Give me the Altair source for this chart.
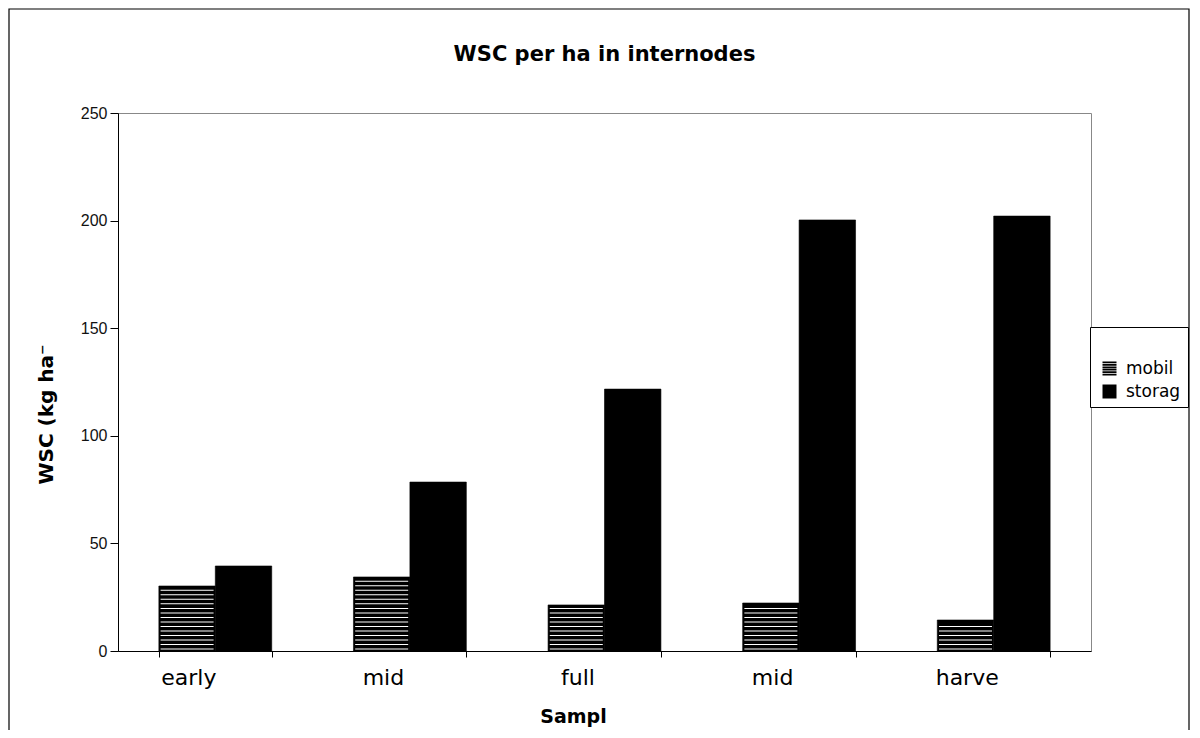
import json
import altair as alt
import pandas as pd

# ---- data ----
stage_labels = ["early", "mid", "full", "mid", "harve"]
series_names = ["mobil", "storag"]
mobil_values = [30.2, 34.4, 21.4, 22.3, 14.4]
storag_values = [39.5, 78.5, 121.7, 200.3, 202.1]
y_ticks = [0, 50, 100, 150, 200, 250]

rows = []
for i, lab in enumerate(stage_labels):
    rows.append({"slot": i, "stage": lab, "series": "mobil", "value": mobil_values[i]})
    rows.append({"slot": i, "stage": lab, "series": "storag", "value": storag_values[i]})
df = pd.DataFrame(rows)

label_expr = json.dumps(stage_labels) + "[datum.value]"

# striped legend symbol (normalized -1..1 path)
band_tops = [-1, -0.65, -0.3, 0.05, 0.4, 0.75]
stripe_path = "".join(f"M-1,{t}H1V{round(t + 0.25, 2)}H-1Z" for t in band_tops)


def x_enc():
    return alt.X(
        "slot:O",
        scale=alt.Scale(paddingInner=0.42, paddingOuter=0.21),
        axis=alt.Axis(
            labelExpr=label_expr,
            labelAngle=0,
            labelFont="DejaVu Sans",
            labelFontSize=22,
            labelColor="black",
            labelOffset=-27,
            labelPadding=10,
            tickBand="extent",
            tickSize=6,
            tickColor="black",
            domainColor="black",
            title="Sampl",
            titleFont="DejaVu Sans",
            titleFontSize=19,
            titleFontWeight="bold",
            titleColor="black",
            titleX=455,
            titleY=65,
            titleBaseline="middle",
            titleAlign="center",
        ),
    )


def xo_enc():
    return alt.XOffset("series:N", scale=alt.Scale(domain=series_names))


def y_enc(field):
    return alt.Y(
        f"{field}:Q",
        scale=alt.Scale(domain=[0, 250], nice=False),
        axis=alt.Axis(
            values=y_ticks,
            grid=False,
            labelFont="Liberation Sans",
            labelFontSize=16,
            labelColor="#111111",
            labelPadding=3,
            tickSize=8,
            tickColor="black",
            domainColor="black",
            title="WSC (kg ha\u207b",
            titleFont="DejaVu Sans",
            titleFontSize=20,
            titleFontWeight="bold",
            titleColor="black",
            titleAngle=-90,
            titleX=-72,
            titleY=301,
            titleAlign="center",
            titleBaseline="middle",
        ),
    )


legend = alt.Legend(
    title="\u00a0",
    orient="none",
    legendX=972,
    legendY=214,
    fillColor="white",
    strokeColor="black",
    padding=7,
    symbolOffset=4,
    labelOffset=8,
    labelFont="DejaVu Sans",
    labelFontSize=17,
    labelColor="black",
    symbolSize=196,
    symbolStrokeWidth=0,
    symbolOpacity=1,
    titleFontSize=14,
    titlePadding=12,
    rowPadding=5,
)

frame = alt.Chart(pd.DataFrame({"k": [0]})).mark_rect(
    fill="transparent", stroke="black", strokeWidth=1.2
).encode(
    x=alt.value(-109), x2=alt.value(1071), y=alt.value(-104), y2=alt.value(700)
)

bars = alt.Chart(df).mark_bar(color="black", stroke="black", strokeWidth=0.6).encode(
    x=x_enc(), xOffset=xo_enc(), y=y_enc("value")
)

stripes = (
    alt.Chart(df)
    .transform_filter("datum.series == 'mobil'")
    .transform_calculate(stripe="sequence(0.9, datum.value - 1.2, 2.1)")
    .transform_flatten(["stripe"])
    .mark_tick(color="white", thickness=1, size=53, opacity=1)
    .encode(x=x_enc(), xOffset=xo_enc(), y=y_enc("stripe"))
)

legend_pts = (
    alt.Chart(df)
    .transform_filter("false")
    .mark_point(filled=True, size=196, opacity=1)
    .encode(
        x=x_enc(),
        y=y_enc("value"),
        shape=alt.Shape(
            "series:N",
            scale=alt.Scale(domain=series_names, range=[stripe_path, "square"]),
            legend=legend,
        ),
        fill=alt.Fill(
            "series:N",
            scale=alt.Scale(domain=series_names, range=["black", "black"]),
            legend=legend,
        ),
    )
)

chart = (
    alt.layer(frame, bars, stripes, legend_pts)
    .properties(
        width=973,
        height=538,
        padding={"left": 110, "top": 105, "right": 101, "bottom": 79},
        autosize=alt.AutoSizeParams(type="none"),
        title=alt.TitleParams(
            "WSC per ha in internodes",
            font="DejaVu Sans",
            fontSize=21,
            fontWeight="bold",
            color="black",
            anchor="middle",
            offset=-57,
        ),
        background="white",
    )
    .configure_view(stroke="#888888", strokeWidth=1)
)

chart.save("out.html", embed_options={"renderer": "svg", "actions": False})
